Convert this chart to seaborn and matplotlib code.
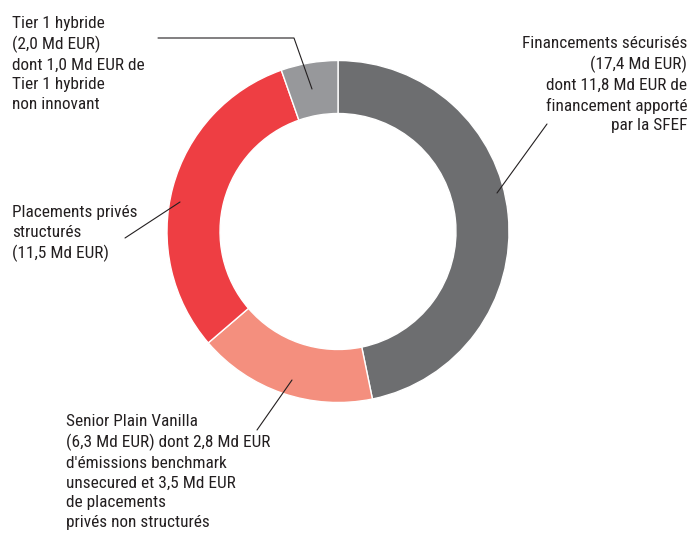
import matplotlib
matplotlib.use('Agg')
import matplotlib.pyplot as plt
import seaborn as sns

labels = ['Financements sécurisés', 'Senior Plain Vanilla', 'Placements privés structurés', 'Tier 1 hybride']
values = [17.4, 6.3, 11.5, 2.0]
colors = ['#6d6e70', '#f48f7e', '#ee3e43', '#97989b']

texts = [
    'Financements sécurisés\n(17,4 Md EUR)\ndont 11,8 Md EUR de\nfinancement apporté\npar la SFEF',
    "Senior Plain Vanilla\n(6,3 Md EUR) dont 2,8 Md EUR\nd'émissions benchmark\nunsecured et 3,5 Md EUR\nde placements\nprivés non structurés",
    'Placements privés\nstructurés\n(11,5 Md EUR)',
    'Tier 1 hybride\n(2,0 Md EUR)\ndont 1,0 Md EUR de\nTier 1 hybride\nnon innovant',
]

sns.set_theme(style='white')
plt.rcParams['font.family'] = ['Roboto Condensed', 'DejaVu Sans']

W, H = 690, 538
fig = plt.figure(figsize=(W / 100, H / 100), dpi=100)
cx, cy, R = 338, 231.5, 171
ax = fig.add_axes([(cx - R) / W, (H - cy - R) / H, 2 * R / W, 2 * R / H])
ax.pie(values, colors=colors, startangle=90, counterclock=False,
       radius=1, wedgeprops=dict(width=0.31, edgecolor='white', linewidth=1))
ax.set_xlim(-1, 1)
ax.set_ylim(-1, 1)
ax.set_aspect('equal')
ax.axis('off')

def px(x, y):
    return x / W, 1 - y / H

# leader lines (pixel positions)
leaders = [
    [(547, 124), (497, 193)],
    [(257, 430), (292, 380)],
    [(125, 238), (180, 202)],
    [(158, 38), (294, 38), (312, 89)],
]
for pts in leaders:
    xs, ys = zip(*[px(*p) for p in pts])
    fig.add_artist(plt.Line2D(xs, ys, color='#231f20', lw=0.8, transform=fig.transFigure))

# label anchors: (x, y of first line top, ha)
anchors = [(687, 36, 'right'), (66, 414, 'left'), (12, 205, 'left'), (12, 16, 'left')]
fs = 12.4
for t, (x, y, ha) in zip(texts, anchors):
    fig.text(*px(x, y), t, ha=ha, va='top', fontsize=fs, color='#231f20',
             linespacing=1.38, multialignment=ha)

fig.savefig('out.png', dpi=100)
